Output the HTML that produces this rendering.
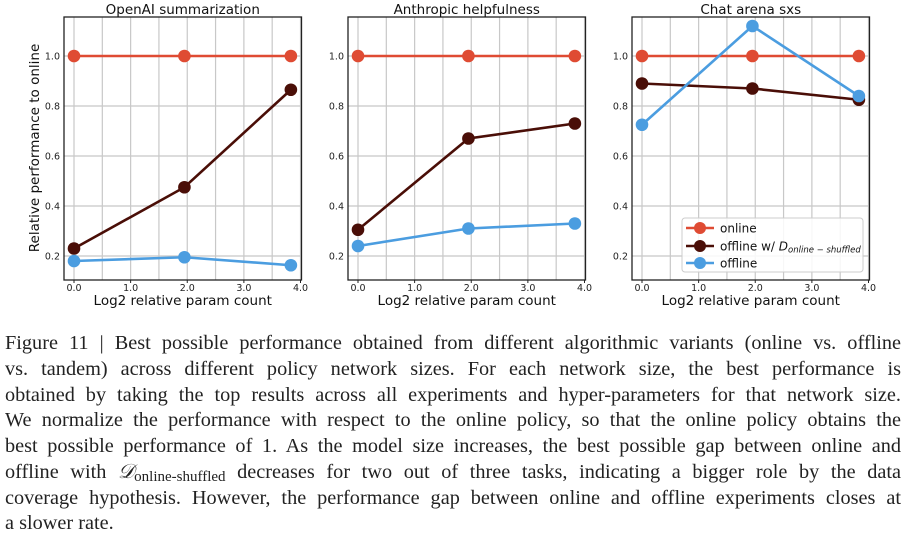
<!DOCTYPE html>
<html><head><meta charset="utf-8"><style>
body{margin:0;width:907px;height:535px;background:#fff;overflow:hidden;position:relative}
svg{position:absolute;left:0;top:0}
#cap{position:absolute;left:5px;top:331px;width:896px;font-family:"Liberation Serif",serif;font-size:20.3px;line-height:25.75px;color:#222}
#cap .l{text-align:justify;text-align-last:justify;white-space:nowrap;display:block;height:25.75px}
#cap .last{text-align:left;text-align-last:left}
#cap sub{font-size:15px;line-height:0;vertical-align:-3px}
</style></head><body>
<svg id="chart" width="907" height="320" font-family="'DejaVu Sans','Liberation Sans',sans-serif"></svg>
<div id="cap">
<span class="l">Figure 11 | Best possible performance obtained from different algorithmic variants (online vs. offline</span>
<span class="l">vs. tandem) across different policy network sizes. For each network size, the best performance is</span>
<span class="l">obtained by taking the top results across all experiments and hyper-parameters for that network size.</span>
<span class="l">We normalize the performance with respect to the online policy, so that the online policy obtains the</span>
<span class="l">best possible performance of 1. As the model size increases, the best possible gap between online and</span>
<span class="l">offline with <i>𝒟</i><sub>online-shuffled</sub> decreases for two out of three tasks, indicating a bigger role by the data</span>
<span class="l">coverage hypothesis. However, the performance gap between online and offline experiments closes at</span>
<span class="l last">a slower rate.</span>
</div>
<script>
const titles=["OpenAI summarization","Anthropic helpfulness","Chat arena sxs"];
const xVals=[0,1.95,3.83];
const onlineVals=[[1,1,1],[1,1,1],[1,1,1]];
const shuffledVals=[[0.23,0.475,0.865],[0.305,0.67,0.73],[0.89,0.87,0.825]];
const offlineVals=[[0.18,0.195,0.163],[0.24,0.31,0.33],[0.725,1.12,0.84]];
const yTicks=[0.2,0.4,0.6,0.8,1.0];
const xTicks=[0,1,2,3,4];
const xTickLabels=["0.0","1.0","2.0","3.0","4.0"];
const yTickLabels=["0.2","0.4","0.6","0.8","1.0"];

const NS="http://www.w3.org/2000/svg";
const svg=document.getElementById('chart');
function mk(t,a,p){const e=document.createElementNS(NS,t);for(const k in a)e.setAttribute(k,a[k]);(p||svg).appendChild(e);return e;}
const panels=[{x0:74},{x0:358},{x0:642}];
const plotTop=17,plotBot=280,xw=226.5;
const y=v=>56+(1-v)*250;
const colors={online:"#df4b33",shuf:"#4a0e07",off:"#4b9de0"};
panels.forEach((p,i)=>{
  const x=v=>p.x0+v/4*xw;
  const L=p.x0-10,R=p.x0+xw+1;
  const g=mk('g',{});
  
  
  for(let k=0;k<=8;k++){const gl=mk('line',{x1:x(k*0.5),x2:x(k*0.5),y1:plotTop,y2:plotBot,stroke:"#c8c8c8","stroke-width":1.2},g);
    
    }
  yTicks.forEach((t,k)=>{const gl=mk('line',{x1:L,x2:R,y1:y(t),y2:y(t),stroke:"#c8c8c8","stroke-width":1.2},g);
    
    
    const tl=mk('text',{x:L-4,y:y(t)+3.5,"text-anchor":"end","font-size":9.5,fill:"#222"},g);tl.textContent=yTickLabels[k];
    
    });
  xTicks.forEach((t,k)=>{const tl=mk('text',{x:x(t),y:plotBot+11,"text-anchor":"middle","font-size":9.5,fill:"#222"},g);tl.textContent=xTickLabels[k];
    
    
    mk('line',{x1:x(t),x2:x(t),y1:plotBot,y2:plotBot+3,stroke:"#222"},g);});
  const fr=mk('rect',{x:L,y:plotTop,width:R-L,height:plotBot-plotTop,fill:"none",stroke:"#222","stroke-width":1.3},g);
  
  
  const tt=mk('text',{x:(L+R)/2,y:14,"text-anchor":"middle","font-size":13.5,fill:"#111"},g);tt.textContent=titles[i];
  
  
  const xl=mk('text',{x:(L+R)/2,y:305,"text-anchor":"middle","font-size":13.5,fill:"#111"},g);xl.textContent="Log2 relative param count";
  
  
  [["online",onlineVals[i],colors.online],["offline-shuffled",shuffledVals[i],colors.shuf],["offline",offlineVals[i],colors.off]].forEach(([nm,vals,c])=>{
    const pl=mk('polyline',{points:vals.map((v,j)=>x(xVals[j])+","+y(v)).join(" "),fill:"none",stroke:c,"stroke-width":2.6},g);
    
    
    vals.forEach((v,j)=>{const m=mk('circle',{cx:x(xVals[j]),cy:y(v),r:6.3,fill:c},g);
      
      });
  });
});
const yl=mk('text',{x:0,y:0,transform:"translate(39,148) rotate(-90)","text-anchor":"middle","font-size":13.5,fill:"#111"});
yl.textContent="Relative performance to online";


const lg=mk('g',{});


mk('rect',{x:682,y:218,width:181,height:54,rx:3,fill:"#fff","fill-opacity":0.85,stroke:"#ccc"},lg);
[["online",colors.online,228],["offline w/ ",colors.shuf,246],["offline",colors.off,263]].forEach(([t,c,yy],k)=>{
  const e=mk('g',{},lg);
  
  
  mk('line',{x1:686,x2:714,y1:yy,y2:yy,stroke:c,"stroke-width":2.6},e);
  mk('circle',{cx:700,cy:yy,r:6,fill:c},e);
  const tx=mk('text',{x:720,y:yy+4.5,"font-size":12,fill:"#111"},e);tx.textContent=t;
  if(k==1){const s=mk('tspan',{"font-style":"italic"},tx);s.textContent="D";
    const s2=mk('tspan',{"font-style":"italic","font-size":8.5,dy:2},tx);s2.textContent="online − shuffled";}
});
</script>
</body></html>
